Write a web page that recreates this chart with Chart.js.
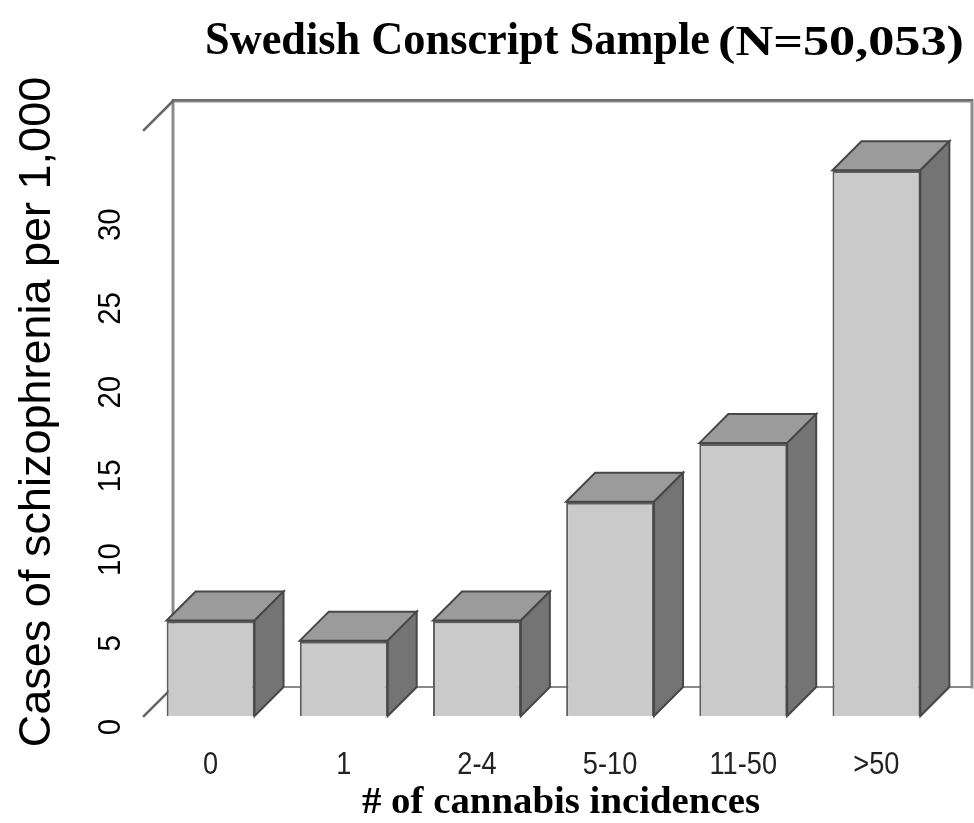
<!DOCTYPE html>
<html>
<head>
<meta charset="utf-8">
<script src="https://cdn.jsdelivr.net/npm/chart.js@4/dist/chart.umd.min.js"></script>
<style>
  html, body { margin: 0; padding: 0; background: #fff; }
  canvas { display: block; }
</style>
</head>
<body>
<canvas id="chart" width="974" height="823"></canvas>
<script>
// data
const categories = ["0", "1", "2-4", "5-10", "11-50", ">50"];
const cases = [5.7, 4.5, 5.7, 12.8, 16.3, 32.6];
const yTickValues = [0, 5, 10, 15, 20, 25, 30];

const titleMain = "Swedish Conscript Sample";
const titleSub = "(N=50,053)";
const xTitle = "# of cannabis incidences";
const yTitle = "Cases of schizophrenia per 1,000";

// depth of the fake 3d
const DX = 29, DY = 29;

// draw a text squeezed to a given scale along its direction
function putText(ctx, text, x, y, o) {
  ctx.save();
  ctx.font = o.font;
  ctx.fillStyle = o.color || "#000";
  ctx.textAlign = o.align || "center";
  ctx.textBaseline = o.baseline || "alphabetic";
  ctx.translate(x, y);
  if (o.rotate) ctx.rotate(o.rotate);
  let sx = o.sx || 1;
  if (o.width) sx = o.width / ctx.measureText(text).width;
  ctx.scale(sx, 1);
  ctx.fillText(text, 0, 0);
  ctx.restore();
}

const box3d = {
  id: "box3d",
  beforeDatasetsDraw(chart) {
    const { ctx, chartArea: a } = chart;
    ctx.save();
    ctx.lineCap = "square";
    // back wall
    ctx.strokeStyle = "#8c8c8c";
    ctx.lineWidth = 3;
    ctx.beginPath();
    ctx.moveTo(a.left + DX, a.bottom - DY);
    ctx.lineTo(a.left + DX, a.top - DY);
    ctx.lineTo(a.right + DX, a.top - DY);
    ctx.lineTo(a.right + DX, a.bottom - DY);
    ctx.stroke();
    ctx.strokeStyle = "#6e6e6e";
    ctx.lineWidth = 2;
    ctx.beginPath();
    ctx.moveTo(a.left + DX, a.top - DY - 1);
    ctx.lineTo(a.right + DX, a.top - DY - 1);
    ctx.stroke();
    // floor line
    ctx.strokeStyle = "#8a8a8a";
    ctx.lineWidth = 2;
    ctx.beginPath();
    ctx.moveTo(a.left + DX, a.bottom - DY);
    ctx.lineTo(a.right + DX, a.bottom - DY);
    ctx.stroke();
    // side edges
    ctx.strokeStyle = "#666";
    ctx.lineWidth = 2.5;
    ctx.beginPath();
    ctx.moveTo(a.left, a.top);
    ctx.lineTo(a.left + DX, a.top - DY);
    ctx.moveTo(a.left, a.bottom);
    ctx.lineTo(a.left + DX, a.bottom - DY);
    ctx.stroke();
    ctx.restore();
  },
  afterDatasetsDraw(chart) {
    const { ctx } = chart;
    const meta = chart.getDatasetMeta(0);
    ctx.save();
    ctx.lineJoin = "miter";
    ctx.strokeStyle = "#474747";
    ctx.lineWidth = 2;
    meta.data.forEach((bar) => {
      const { x, y, base, width } = bar.getProps(["x", "y", "base", "width"], true);
      const l = x - width / 2, r = x + width / 2;
      // top face
      ctx.beginPath();
      ctx.moveTo(l, y);
      ctx.lineTo(l + DX, y - DY);
      ctx.lineTo(r + DX, y - DY);
      ctx.lineTo(r, y);
      ctx.closePath();
      ctx.fillStyle = "#9b9b9b";
      ctx.fill();
      ctx.stroke();
      // side face
      ctx.beginPath();
      ctx.moveTo(r, y);
      ctx.lineTo(r + DX, y - DY);
      ctx.lineTo(r + DX, base - DY);
      ctx.lineTo(r, base);
      ctx.closePath();
      ctx.fillStyle = "#747474";
      ctx.fill();
      ctx.stroke();
    });
    ctx.restore();
  },
  afterDraw(chart) {
    const { ctx, scales } = chart;
    // titles
    putText(ctx, titleMain, 205, 54, { font: "bold 46px 'Liberation Serif'", align: "left", width: 505 });
    putText(ctx, titleSub, 718, 55, { font: "bold 42px 'Liberation Serif'", align: "left", width: 246 });
    putText(ctx, xTitle, 561, 813, { font: "bold 38px 'Liberation Serif'", width: 398 });
    putText(ctx, yTitle, 50, 412, { font: "45px 'Liberation Sans'", rotate: -Math.PI / 2 });
    // x tick labels
    categories.forEach((c, i) => {
      putText(ctx, c, scales.x.getPixelForValue(i), 774, { font: "32px 'Liberation Sans'", color: "#222", sx: 0.85 });
    });
    // y tick labels
    yTickValues.forEach((v) => {
      putText(ctx, String(v), 120, scales.y.getPixelForValue(v) + 11, { font: "31px 'Liberation Sans'", rotate: -Math.PI / 2, sx: 0.95 });
    });
  }
};

new Chart(document.getElementById("chart"), {
  type: "bar",
  data: {
    labels: categories,
    datasets: [{
      data: cases,
      backgroundColor: "#cacaca",
      borderColor: "#5e5e5e",
      borderWidth: { left: 2, top: 3, right: 2, bottom: 0 },
      borderSkipped: false,
      categoryPercentage: 1,
      barPercentage: 0.66
    }]
  },
  options: {
    responsive: false,
    animation: false,
    events: [],
    layout: { padding: { left: 144, top: 130, right: 31, bottom: 107 } },
    plugins: {
      legend: { display: false },
      title: { display: false },
      tooltip: { enabled: false }
    },
    scales: {
      x: { display: false },
      y: { display: false, min: 0, max: 35 }
    }
  },
  plugins: [box3d]
});
</script>
</body>
</html>
